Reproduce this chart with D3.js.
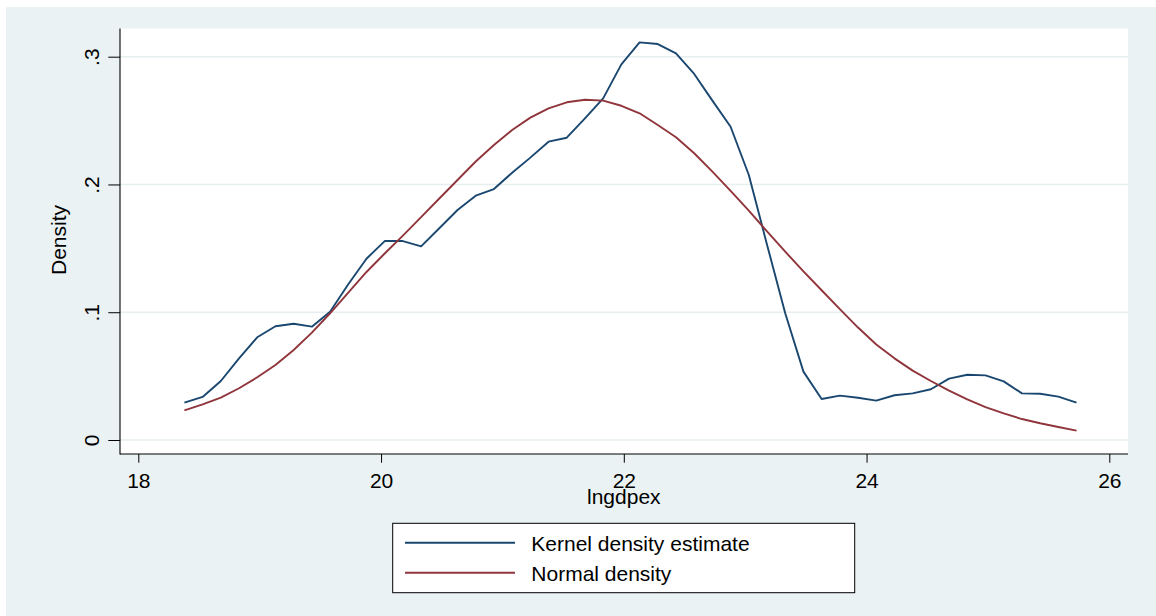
<!DOCTYPE html>
<html>
<head>
<meta charset="utf-8">
<script src="https://cdn.jsdelivr.net/npm/d3@7"></script>
<style>
  html, body { margin: 0; padding: 0; background: #ffffff; }
  svg { display: block; }
  text { font-family: "Liberation Sans", Arial, Helvetica, sans-serif; fill: #000; }
</style>
</head>
<body>
<svg id="chart" width="1156" height="616"></svg>
<script>
// Evaluation points of lngdpex
const gridX = [18.38, 18.53, 18.68, 18.83, 18.98, 19.13, 19.28, 19.43, 19.58, 19.73,
               19.88, 20.03, 20.18, 20.33, 20.48, 20.63, 20.78, 20.93, 21.08, 21.23,
               21.38, 21.53, 21.68, 21.83, 21.98, 22.13, 22.28, 22.43, 22.58, 22.73,
               22.88, 23.03, 23.18, 23.33, 23.48, 23.63, 23.78, 23.93, 24.08, 24.23,
               24.38, 24.53, 24.68, 24.83, 24.98, 25.13, 25.28, 25.43, 25.58, 25.73];

// Kernel density estimate at each point
const kernelDensity = [0.0292, 0.0337, 0.0462, 0.0639, 0.0804, 0.0890, 0.0910, 0.0887, 0.1004, 0.1219,
                       0.1419, 0.1557, 0.1557, 0.1516, 0.1657, 0.1800, 0.1912, 0.1964, 0.2092, 0.2210,
                       0.2335, 0.2366, 0.2518, 0.2674, 0.2940, 0.3112, 0.3099, 0.3026, 0.2865, 0.2656,
                       0.2452, 0.2074, 0.1529, 0.0992, 0.0535, 0.0321, 0.0347, 0.0331, 0.0308, 0.0350,
                       0.0365, 0.0397, 0.0480, 0.0511, 0.0506, 0.0459, 0.0365, 0.0362, 0.0339, 0.0292];

// Normal density at each point
const normalDensity = [0.0232, 0.0279, 0.0331, 0.0405, 0.0491, 0.0587, 0.0704, 0.0840, 0.0992, 0.1153,
                       0.1315, 0.1460, 0.1600, 0.1745, 0.1890, 0.2035, 0.2180, 0.2309, 0.2426, 0.2523,
                       0.2596, 0.2643, 0.2663, 0.2656, 0.2616, 0.2557, 0.2465, 0.2369, 0.2244, 0.2100,
                       0.1950, 0.1795, 0.1632, 0.1474, 0.1320, 0.1172, 0.1025, 0.0880, 0.0748, 0.0639,
                       0.0543, 0.0462, 0.0386, 0.0318, 0.0258, 0.0209, 0.0164, 0.0131, 0.0102, 0.0073];

const xTicks = [18, 20, 22, 24, 26];
const yTicks = [0, 0.1, 0.2, 0.3];
const yTickLabels = ["0", ".1", ".2", ".3"];
const seriesNames = ["Kernel density estimate", "Normal density"];
const seriesColors = ["#1a476f", "#90353b"];
const xTitle = "lngdpex";
const yTitle = "Density";

const svg = d3.select("#chart");
const W = 1156, H = 616;
const plot = { left: 120, right: 1128, top: 28.5, bottom: 454 };
const fontSize = 21;

// Graph background
svg.append("rect").attr("x", 6).attr("y", 7).attr("width", W - 6).attr("height", H - 7)
  .attr("fill", "#eaf2f3");
// Plot region
svg.append("rect").attr("x", plot.left).attr("y", plot.top)
  .attr("width", plot.right - plot.left).attr("height", plot.bottom - plot.top)
  .attr("fill", "#ffffff");

const x = d3.scaleLinear().domain([18, 26]).range([138.3, 1109.3]);
const y = d3.scaleLinear().domain([0, 0.3]).range([440, 56.7]);

// Horizontal grid lines
svg.append("g").selectAll("line").data(yTicks).join("line")
  .attr("x1", plot.left).attr("x2", plot.right)
  .attr("y1", d => y(d)).attr("y2", d => y(d))
  .attr("stroke", "#e6eef0").attr("stroke-width", 1.4);

// Density curves
const series = [kernelDensity, normalDensity];
const line = d3.line().x(d => x(d[0])).y(d => y(d[1]));
series.forEach((vals, i) => {
  svg.append("path")
    .datum(gridX.map((gx, k) => [gx, vals[k]]))
    .attr("fill", "none")
    .attr("stroke", seriesColors[i])
    .attr("stroke-width", 1.9)
    .attr("stroke-linejoin", "round")
    .attr("d", line);
});

// Y axis
const yAxis = d3.axisLeft(y).tickValues(yTicks).tickSize(11.7).tickSizeOuter(0)
  .tickFormat((d, i) => yTickLabels[i]);
const gy = svg.append("g").attr("transform", `translate(${plot.left},0)`).call(yAxis);
gy.select(".domain").remove();
gy.selectAll(".tick line").attr("stroke", "#000").attr("stroke-width", 1);
gy.selectAll(".tick text")
  .attr("x", null).attr("dy", null)
  .attr("text-anchor", "middle")
  .attr("transform", "translate(-20.7,0) rotate(-90)")
  .style("font-size", fontSize + "px")
  .style("font-family", "'Liberation Sans', Arial, sans-serif")
  .attr("fill", "#000");
svg.append("line").attr("x1", plot.left).attr("x2", plot.left)
  .attr("y1", plot.top).attr("y2", plot.bottom + 0.5)
  .attr("stroke", "#000").attr("stroke-width", 1.1);

// X axis
const xAxis = d3.axisBottom(x).tickValues(xTicks).tickSize(8.7).tickSizeOuter(0)
  .tickFormat(d3.format("d"));
const gx = svg.append("g").attr("transform", `translate(0,${plot.bottom})`).call(xAxis);
gx.select(".domain").remove();
gx.selectAll(".tick line").attr("stroke", "#000").attr("stroke-width", 1);
gx.selectAll(".tick text")
  .attr("y", 33.7).attr("dy", null)
  .style("font-size", fontSize + "px")
  .style("font-family", "'Liberation Sans', Arial, sans-serif")
  .attr("fill", "#000");
svg.append("line").attr("x1", plot.left).attr("x2", plot.right)
  .attr("y1", plot.bottom).attr("y2", plot.bottom)
  .attr("stroke", "#000").attr("stroke-width", 1.1);

// Axis titles
svg.append("text").attr("x", x(22)).attr("y", 504.3)
  .attr("text-anchor", "middle").style("font-size", fontSize + "px").text(xTitle);
svg.append("text").attr("transform", `translate(66,240) rotate(-90)`)
  .attr("text-anchor", "middle").style("font-size", fontSize + "px").text(yTitle);

// Legend
const legend = svg.append("g");
legend.append("rect").attr("x", 392.7).attr("y", 523.3).attr("width", 462).attr("height", 69.4)
  .attr("fill", "#ffffff").attr("stroke", "#000").attr("stroke-width", 1);
const legendRows = [542.7, 572.7];
seriesNames.forEach((name, i) => {
  legend.append("line").attr("x1", 405).attr("x2", 515)
    .attr("y1", legendRows[i]).attr("y2", legendRows[i])
    .attr("stroke", seriesColors[i]).attr("stroke-width", 1.9);
  legend.append("text").attr("x", 531.3).attr("y", legendRows[i] + 8.6)
    .style("font-size", fontSize + "px").text(name);
});
</script>
</body>
</html>
